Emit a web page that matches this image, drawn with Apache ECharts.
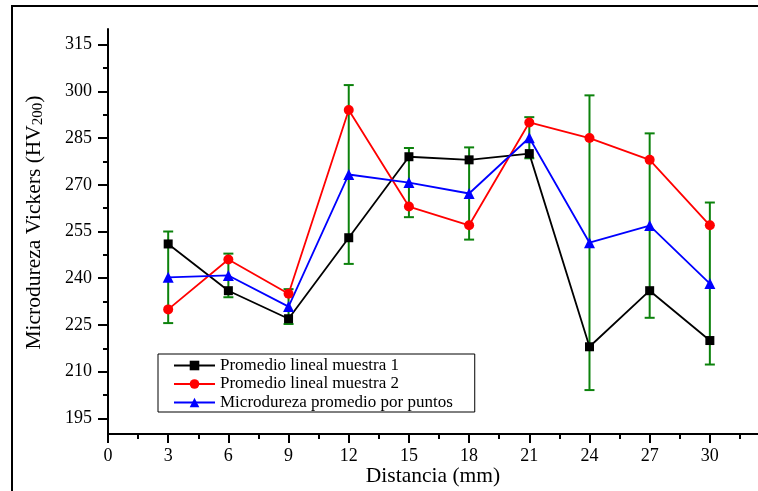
<!DOCTYPE html>
<html>
<head>
<meta charset="utf-8">
<script src="https://cdn.jsdelivr.net/npm/echarts@6/dist/echarts.min.js"></script>
<style>
html,body{margin:0;padding:0;background:#fff;}
#chart{width:758px;height:491px;}
</style>
</head>
<body>
<div id="chart"></div>
<script>
// ---- data ----
const distances = [3, 6, 9, 12, 15, 18, 21, 24, 27, 30];
const muestra1 = [251, 236, 227, 253, 279, 278, 280, 218, 236, 220];
const muestra2 = [230, 246, 235, 294, 263, 257, 290, 285, 278, 257];
const puntos = [240.3, 240.9, 230.9, 273.3, 270.7, 267.2, 285.1, 251.4, 256.9, 238.3];
const puntosErr = [14.7, 7.0, 5.6, 28.7, 11.1, 14.8, 6.6, 47.3, 29.6, 26.0];
const xTickLabels = [0, 3, 6, 9, 12, 15, 18, 21, 24, 27, 30];
const xMinorTicks = [1.5, 4.5, 7.5, 10.5, 13.5, 16.5, 19.5, 22.5, 25.5, 28.5, 31.5];
const yTickLabels = [195, 210, 225, 240, 255, 270, 285, 300, 315];
const yMinorTicks = [202.5, 217.5, 232.5, 247.5, 262.5, 277.5, 292.5, 307.5];
const seriesNames = ['Promedio lineal muestra 1', 'Promedio lineal muestra 2', 'Microdureza promedio por puntos'];

const FONT = 'Liberation Serif';
const chart = echarts.init(document.getElementById('chart'), null, {renderer: 'canvas'});

const pair = (vals) => distances.map((d, i) => [d, vals[i]]);
const errData = distances.map((d, i) => [d, puntos[i] - puntosErr[i], puntos[i] + puntosErr[i]]);

const X_MIN = 0, X_MAX = 32.4, Y_MIN = 190, Y_MAX = 320;

const option = {
  backgroundColor: '#fff',
  animation: false,
  graphic: [{
    type: 'rect', silent: true, z: 100,
    shape: {x: 12, y: 6, width: 800, height: 600},
    style: {fill: 'none', stroke: '#000', lineWidth: 2}
  }],
  grid: {left: 108, top: 29, width: 650, height: 405, containLabel: false, outerBoundsMode: 'none'},
  legend: {
    orient: 'vertical',
    left: 158, top: 354,
    data: seriesNames,
    itemWidth: 41, itemHeight: 12, itemGap: 1.5,
    padding: [3, 22, 1, 15],
    borderColor: '#000', borderWidth: 1,
    textStyle: {fontFamily: FONT, fontSize: 17, color: '#000'}
  },
  xAxis: [{
    type: 'value', min: X_MIN, max: X_MAX,
    name: 'Distancia (mm)', nameLocation: 'middle', nameGap: 31, nameMoveOverlap: false,
    nameTextStyle: {fontFamily: FONT, fontSize: 21.5, color: '#000'},
    axisLine: {show: true, onZero: false, lineStyle: {color: '#000', width: 2}},
    axisTick: {show: true, length: 9, customValues: xTickLabels, lineStyle: {color: '#000', width: 2}},
    axisLabel: {customValues: xTickLabels, fontFamily: FONT, fontSize: 18, color: '#000', margin: 13},
    splitLine: {show: false}
  }, {
    type: 'value', min: X_MIN, max: X_MAX, position: 'bottom',
    axisLine: {show: false},
    axisTick: {show: true, length: 5, customValues: xMinorTicks, lineStyle: {color: '#000', width: 2}},
    axisLabel: {show: false},
    splitLine: {show: false}
  }],
  yAxis: [{
    type: 'value', min: Y_MIN, max: Y_MAX,
    name: 'Microdureza Vickers (HV{sub|200})', nameLocation: 'middle', nameGap: 62,
    nameTextStyle: {fontFamily: FONT, fontSize: 21.5, color: '#000', padding: [0, 0, 0, 18],
      rich: {sub: {fontFamily: FONT, fontSize: 15, color: '#000', verticalAlign: 'bottom', padding: [8, 0, 0, 0]}}},
    axisLine: {show: true, onZero: false, lineStyle: {color: '#000', width: 2}},
    axisTick: {show: true, length: 10, customValues: yTickLabels, lineStyle: {color: '#000', width: 2}},
    axisLabel: {customValues: yTickLabels, fontFamily: FONT, fontSize: 18, color: '#000', margin: 16},
    splitLine: {show: false}
  }, {
    type: 'value', min: Y_MIN, max: Y_MAX, position: 'left',
    axisLine: {show: false},
    axisTick: {show: true, length: 5, customValues: yMinorTicks, lineStyle: {color: '#000', width: 2}},
    axisLabel: {show: false},
    splitLine: {show: false}
  }],
  series: [{
    type: 'custom', name: 'error', z: 1, silent: true,
    encode: {x: 0, y: [1, 2]},
    renderItem: function (params, api) {
      const x = api.value(0), lo = api.value(1), hi = api.value(2);
      const pTop = api.coord([x, hi]);
      const pBot = api.coord([x, lo]);
      const hw = 5;
      const st = {stroke: '#0c820c', lineWidth: 2};
      return {type: 'group', children: [
        {type: 'line', shape: {x1: pTop[0], y1: pTop[1], x2: pBot[0], y2: pBot[1]}, style: st},
        {type: 'line', shape: {x1: pTop[0] - hw, y1: pTop[1], x2: pTop[0] + hw, y2: pTop[1]}, style: st},
        {type: 'line', shape: {x1: pBot[0] - hw, y1: pBot[1], x2: pBot[0] + hw, y2: pBot[1]}, style: st}
      ]};
    },
    data: errData
  }, {
    name: seriesNames[0], type: 'line', z: 3, data: pair(muestra1),
    symbol: 'rect', symbolSize: 9,
    lineStyle: {color: '#000', width: 1.8}, itemStyle: {color: '#000'}
  }, {
    name: seriesNames[1], type: 'line', z: 3, data: pair(muestra2),
    symbol: 'circle', symbolSize: 10,
    lineStyle: {color: '#ff0000', width: 1.8}, itemStyle: {color: '#ff0000'}
  }, {
    name: seriesNames[2], type: 'line', z: 3, data: pair(puntos),
    symbol: 'triangle', symbolSize: 11,
    lineStyle: {color: '#0000ff', width: 1.8}, itemStyle: {color: '#0000ff'}
  }]
};
chart.setOption(option);
</script>
</body>
</html>
